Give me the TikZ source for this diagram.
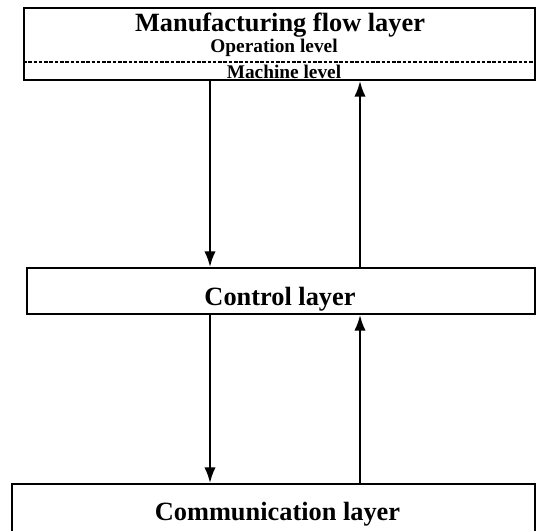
\documentclass[tikz,border=0pt]{standalone}
\usepackage{fontspec}
\setmainfont{Liberation Serif}
\usetikzlibrary{arrows.meta}
\begin{document}
\begin{tikzpicture}[
  layer/.style={rectangle, draw, line width=1pt, inner sep=0pt},
  title/.style={font=\bfseries\fontsize{15}{17}\selectfont},
  level/.style={font=\bfseries\fontsize{11}{13}\selectfont},
  flow/.style={-{Latex[length=9pt,width=6.5pt]}, line width=1.3pt},
  font=\small
]
\useasboundingbox (0,0) rectangle (10.72,-10.6);

% Manufacturing flow layer
\node[layer, minimum width=10.22cm, minimum height=1.44cm] (mfl) at (5.59,-0.88) {};
\node[title] (mfltxt) at (5.6,-0.5) {Manufacturing flow layer};
\node[level] (oplev) at (5.48,-0.95) {Operation level};
\coordinate (sep) at (0,-1.24);
\draw[dash pattern=on 2pt off 1pt, line width=0.8pt] (mfl.west |- sep) -- (mfl.east |- sep);
\node[level] (machlev) at (5.68,-1.43) {Machine level};

% Control layer
\node[layer, minimum width=10.16cm, minimum height=0.92cm] (ctrl) at (5.62,-5.82) {};
\node[title] (ctrltxt) at (5.6,-5.98) {Control layer};

% Communication layer
\node[layer, minimum width=10.46cm, minimum height=1.12cm] (comm) at (5.47,-10.24) {};
\node[title] (commtxt) at (5.55,-10.28) {Communication layer};

% Arrows
\coordinate (down) at (4.2,0);
\coordinate (up) at (7.2,0);
\draw[flow] (mfl.south -| down) -- (ctrl.north -| down);
\draw[flow] (ctrl.north -| up) -- (mfl.south -| up);
\draw[flow] (ctrl.south -| down) -- (comm.north -| down);
\draw[flow] (comm.north -| up) -- (ctrl.south -| up);
\end{tikzpicture}
\end{document}
